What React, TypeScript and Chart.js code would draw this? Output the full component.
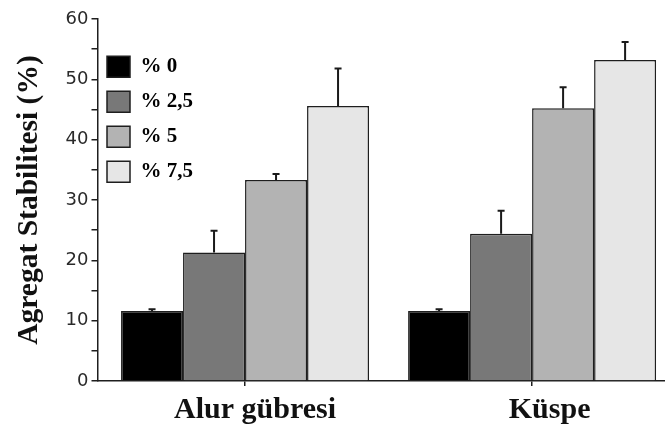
import React, { useEffect, useRef } from "react";
import { Chart, registerables } from "chart.js";

Chart.register(...registerables);

const categories = ["Alur gübresi", "Küspe"];
const seriesLabels = ["% 0", "% 2,5", "% 5", "% 7,5"];
const values0 = [11.6, 11.6];
const values25 = [21.3, 24.4];
const values5 = [33.3, 45.2];
const values75 = [45.6, 53.2];
const errors0 = [0.3, 0.3];
const errors25 = [3.6, 3.8];
const errors5 = [1.0, 3.5];
const errors75 = [6.2, 3.0];
const yTicks = [0, 10, 20, 30, 40, 50, 60];

const seriesValues = [values0, values25, values5, values75];
const seriesErrors = [errors0, errors25, errors5, errors75];
const seriesColors = ["#000000", "#787878", "#b3b3b3", "#e6e6e6"];

const SERIF = "'Liberation Serif', 'Times New Roman', serif";
const SANS = "'DejaVu Sans', 'Liberation Sans', Arial, sans-serif";

const errorBarPlugin = {
  id: "errorBars",
  afterLayout(chart: any) {
    if (chart.legend) {
      chart.legend.left -= 4.5;
      chart.legend.right -= 4.5;
    }
  },
  afterDatasetsDraw(chart: any) {
    const ctx = chart.ctx;
    const yScale = chart.scales.y;
    chart.data.datasets.forEach((ds: any, di: number) => {
      const meta = chart.getDatasetMeta(di);
      meta.data.forEach((bar: any, i: number) => {
        const v = seriesValues[di][i];
        const e = seriesErrors[di][i];
        const top = yScale.getPixelForValue(v + e);
        const x = bar.x;
        const y0 = bar.y;
        ctx.save();
        ctx.strokeStyle = "#1a1a1a";
        ctx.lineWidth = 2;
        ctx.beginPath();
        ctx.moveTo(x, y0);
        ctx.lineTo(x, top);
        ctx.moveTo(x - 3.5, top);
        ctx.lineTo(x + 3.5, top);
        ctx.stroke();
        ctx.restore();
      });
    });
  },
};

export default function App() {
  const ref = useRef<HTMLCanvasElement | null>(null);
  useEffect(() => {
    if (!ref.current) return;
    const chart = new Chart(ref.current, {
      type: "bar",
      data: {
        datasets: seriesLabels.map((label, di) => ({
          label,
          data: categories.map((_, i) => ({ x: i, y: seriesValues[di][i] })),
          backgroundColor: seriesColors[di],
          borderColor: "#1e1e1e",
          borderWidth: 1.5,
          barPercentage: 1,
          categoryPercentage: 0.864,
        })),
      },
      options: {
        responsive: false,
        animation: false,
        layout: { padding: { top: 19, left: 0, right: 0, bottom: 0 } },
        plugins: {
          tooltip: { enabled: false },
          legend: {
            position: "chartArea" as any,
            align: "start",
            title: {
              display: true,
              text: " ",
              font: { size: 1 },
              padding: { top: 41, bottom: 0 },
            },
            labels: {
              boxWidth: 23,
              boxHeight: 21,
              padding: 14,
              color: "#000",
              font: { family: SERIF, size: 21, weight: "bold" },
            },
          },
        },
        scales: {
          x: {
            type: "linear",
            offset: false,
            min: -0.514,
            max: 1.463,
            afterBuildTicks: (scale: any) => {
              scale.ticks = categories.map((_, i) => ({ value: i }));
            },
            afterFit: (scale: any) => {
              scale.height = 48;
            },
            grid: {
              offset: false,
              drawOnChartArea: false,
              tickLength: 5,
              color: "#1e1e1e",
              lineWidth: 1.5,
            },
            border: { color: "#1e1e1e", width: 1.5 },
            ticks: {
              autoSkip: false,
              maxRotation: 0,
              padding: 6,
              labelOffset: 10,
              color: "#111",
              font: { family: SERIF, size: 30, weight: "bold" },
              callback: (v: any) => {
                const name = categories[Math.round(Number(v))] ?? "";
                return Math.round(Number(v)) === 1 ? "  " + name : name;
              },
            },
          },
          y: {
            min: 0,
            max: 60,
            afterBuildTicks: (scale: any) => {
              const t: any[] = [];
              yTicks.forEach((v, i) => {
                t.push({ value: v });
                if (i < yTicks.length - 1) t.push({ value: v + 5 });
              });
              scale.ticks = t;
            },
            afterFit: (scale: any) => {
              scale.width = 97.5;
            },
            grid: {
              drawOnChartArea: false,
              tickLength: 6,
              color: "#1e1e1e",
              lineWidth: 1.5,
            },
            border: { color: "#1e1e1e", width: 1.5 },
            ticks: {
              padding: 3,
              color: "#2a2a2a",
              font: { family: SANS, size: 18 },
              callback: (v: any) => (yTicks.includes(Number(v)) ? String(v) : ""),
            },
            title: {
              display: true,
              text: "Agregat Stabilitesi (%)",
              color: "#111",
              font: { family: SERIF, size: 29.5, weight: "bold" },
              padding: { top: 12, bottom: 0 },
            },
          },
        },
      },
      plugins: [errorBarPlugin],
    } as any);
    return () => chart.destroy();
  }, []);
  return (
    <div style={{ position: "fixed", left: 0, top: 0, width: 665, height: 429, background: "#fff" }}>
      <canvas ref={ref} width={665} height={429} style={{ display: "block" }} />
    </div>
  );
}
